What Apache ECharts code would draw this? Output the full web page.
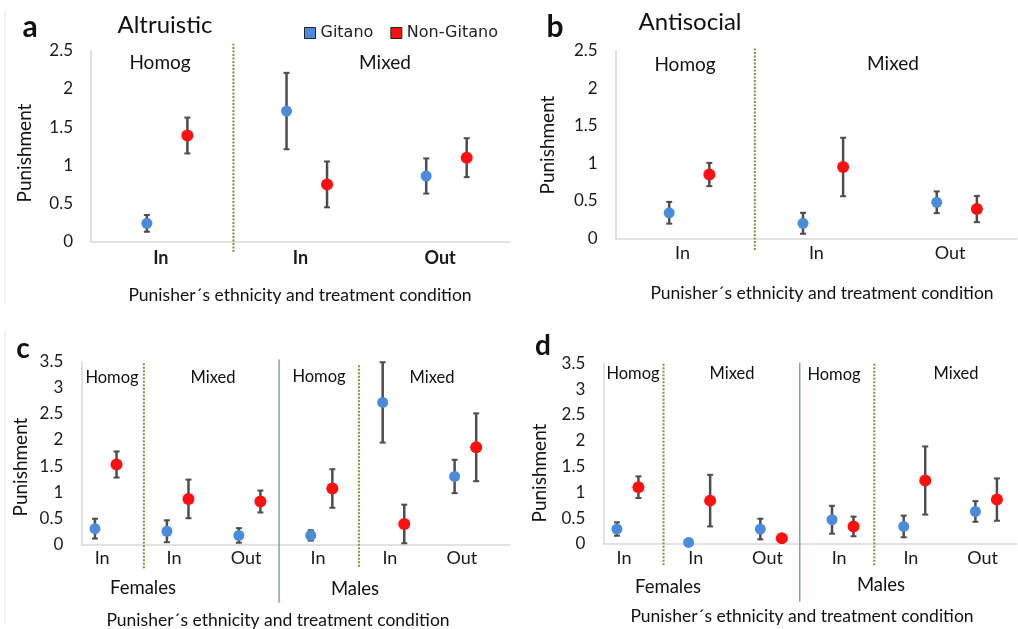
<!DOCTYPE html>
<html><head><meta charset="utf-8">
<script src="https://cdn.jsdelivr.net/npm/echarts@6/dist/echarts.min.js"></script>
<style>html,body{margin:0;padding:0;background:#fff}#c{width:1018px;height:629px}</style>
</head><body><div id="c"></div>
<script>
// ---------- data ----------
const aCats = ['In', 'In', 'Out'];
const aGitano = [0.24, 1.71, 0.86];
const aGitanoErr = [0.11, 0.50, 0.23];
const aNonGitano = [1.39, 0.75, 1.10];
const aNonGitanoErr = [0.235, 0.30, 0.255];

const bCats = ['In', 'In', 'Out'];
const bGitano = [0.34, 0.20, 0.48];
const bGitanoErr = [0.145, 0.14, 0.145];
const bNonGitano = [0.85, 0.95, 0.39];
const bNonGitanoErr = [0.155, 0.39, 0.175];

const cCats = ['In', 'In', 'Out', 'In', 'In', 'Out'];
const cGitano = [0.30, 0.25, 0.17, 0.17, 2.72, 1.30];
const cGitanoErr = [0.19, 0.21, 0.14, 0.10, 0.77, 0.32];
const cNonGitano = [1.53, 0.87, 0.82, 1.07, 0.39, 1.86];
const cNonGitanoErr = [0.25, 0.37, 0.21, 0.37, 0.37, 0.65];

const dCats = ['In', 'In', 'Out', 'In', 'In', 'Out'];
const dGitano = [0.29, 0.03, 0.29, 0.47, 0.34, 0.63];
const dGitanoErr = [0.13, 0.0, 0.2, 0.27, 0.21, 0.2];
const dNonGitano = [1.10, 0.84, 0.11, 0.34, 1.23, 0.86];
const dNonGitanoErr = [0.21, 0.50, 0.0, 0.19, 0.66, 0.41];

const yTicksAB = [0, 0.5, 1, 1.5, 2, 2.5];
const yTicksCD = [0, 0.5, 1, 1.5, 2, 2.5, 3, 3.5];

// ---------- styling / layout ----------
const FONT = 'Lato, "Open Sans", sans-serif';
const BLUE = '#4a8bdb', RED = '#ff0f0f', ERR = '#4d4d4d';
const AXIS = '#d9d9d9', DOT = '#7f953a', SOLID = '#7aa3d2';

const panels = [
  {cats: aCats, g: aGitano, ge: aGitanoErr, n: aNonGitano, ne: aNonGitanoErr, ticks: yTicksAB,
   grid: {left: 91, top: 50.7, width: 419, height: 191}, xmin: -0.5, xmax: 2.5, gOff: -0.1, nOff: 0.19,
   labelGap: 16, labelWeight: 'bold',
   seps: [{x: 0.52, y0: -0.135, y1: 2.59, solid: false}]},
  {cats: bCats, g: bGitano, ge: bGitanoErr, n: bNonGitano, ne: bNonGitanoErr, ticks: yTicksAB,
   grid: {left: 615.7, top: 50.7, width: 401.3, height: 187.6}, xmin: -0.5, xmax: 2.5, gOff: -0.1, nOff: 0.2,
   labelGap: 15, labelWeight: 'normal',
   seps: [{x: 0.54, y0: -0.157, y1: 2.55, solid: false}]},
  {cats: cCats, g: cGitano, ge: cGitanoErr, n: cNonGitano, ne: cNonGitanoErr, ticks: yTicksCD,
   grid: {left: 81.3, top: 361.7, width: 428.7, height: 182.6}, xmin: -0.29, xmax: 5.67, gOff: -0.1, nOff: 0.2,
   labelGap: 14, labelWeight: 'normal',
   seps: [{x: 0.58, y0: -0.46, y1: 3.47, solid: false}, {x: 3.57, y0: -0.43, y1: 3.44, solid: false},
          {x: 2.46, y0: -1.12, y1: 3.54, solid: true}]},
  {cats: dCats, g: dGitano, ge: dGitanoErr, n: dNonGitano, ne: dNonGitanoErr, ticks: yTicksCD,
   grid: {left: 603.3, top: 363.3, width: 413.7, height: 180.7}, xmin: -0.29, xmax: 5.48, gOff: -0.1, nOff: 0.2,
   labelGap: 14, labelWeight: 'normal',
   seps: [{x: 0.55, y0: -0.41, y1: 3.52, solid: false}, {x: 3.49, y0: -0.41, y1: 3.52, solid: false},
          {x: 2.45, y0: -1.12, y1: 3.51, solid: true}]}
];

const grids = [], xAxes = [], yAxes = [], series = [];
panels.forEach((p, i) => {
  grids.push(Object.assign({containLabel: false}, p.grid));
  xAxes.push({type: 'value', gridIndex: i, min: p.xmin, max: p.xmax,
    axisLine: {show: true, onZero: false, lineStyle: {color: AXIS, width: 1.5}},
    axisTick: {show: false}, axisLabel: {show: false}, splitLine: {show: false}});
  yAxes.push({type: 'value', gridIndex: i, min: 0, max: p.ticks[p.ticks.length - 1], interval: 0.5,
    axisLine: {show: true, onZero: false, lineStyle: {color: AXIS, width: 1.5}},
    axisTick: {show: false}, splitLine: {show: false},
    axisLabel: {margin: 18, color: '#1a1a1a', fontSize: 17, fontFamily: FONT}});

  // separators
  series.push({type: 'custom', xAxisIndex: i, yAxisIndex: i, silent: true, z: 1, clip: false,
    data: p.seps.map(s => [s.x, s.y0, s.y1, s.solid ? 1 : 0]),
    encode: {x: 0, y: [1, 2]},
    renderItem: (params, api) => {
      const a = api.coord([api.value(0), api.value(1)]);
      const b = api.coord([api.value(0), api.value(2)]);
      const solid = api.value(3) === 1;
      return {type: 'line', shape: {x1: a[0], y1: a[1], x2: b[0], y2: b[1]},
        style: {stroke: solid ? SOLID : DOT, lineWidth: solid ? 1.5 : 2, lineDash: solid ? null : [2, 1.5]}};
    }});

  // category labels
  series.push({type: 'custom', xAxisIndex: i, yAxisIndex: i, silent: true, z: 1, clip: false,
    data: p.cats.map((c, k) => [k, 0]),
    encode: {x: 0, y: 1},
    renderItem: (params, api) => {
      const pt = api.coord([api.value(0), 0]);
      return {type: 'text', x: pt[0], y: pt[1] + p.labelGap,
        style: {text: p.cats[params.dataIndex], fill: '#1a1a1a', align: 'center', verticalAlign: 'middle',
          font: p.labelWeight + ' 18px ' + FONT}};
    }});

  // error bars
  [[p.g, p.ge, p.gOff], [p.n, p.ne, p.nOff]].forEach(([vals, errs, off]) => {
    series.push({type: 'custom', xAxisIndex: i, yAxisIndex: i, silent: true, z: 2, clip: false,
      data: vals.map((v, k) => [k + off, v - errs[k], v + errs[k]]),
      encode: {x: 0, y: [1, 2]},
      renderItem: (params, api) => {
        const lo = api.coord([api.value(0), api.value(1)]);
        const hi = api.coord([api.value(0), api.value(2)]);
        if (Math.abs(hi[1] - lo[1]) < 1) return null;
        const st = {stroke: ERR, lineWidth: 2.5};
        return {type: 'group', children: [
          {type: 'line', shape: {x1: lo[0], y1: lo[1], x2: hi[0], y2: hi[1]}, style: st},
          {type: 'line', shape: {x1: hi[0] - 3, y1: hi[1], x2: hi[0] + 3, y2: hi[1]}, style: {stroke: ERR, lineWidth: 2}},
          {type: 'line', shape: {x1: lo[0] - 3, y1: lo[1], x2: lo[0] + 3, y2: lo[1]}, style: {stroke: ERR, lineWidth: 2}}
        ]};
      }});
  });

  // points
  series.push({type: 'scatter', name: 'Gitano', xAxisIndex: i, yAxisIndex: i, z: 3, symbolSize: 11,
    itemStyle: {color: BLUE, opacity: 1}, data: p.g.map((v, k) => [k + p.gOff, v])});
  series.push({type: 'scatter', name: 'Non-Gitano', xAxisIndex: i, yAxisIndex: i, z: 3, symbolSize: 12,
    itemStyle: {color: RED, opacity: 1}, data: p.n.map((v, k) => [k + p.nOff, v])});
});

function txt(x, y, text, size, opts) {
  opts = opts || {};
  return {type: 'text', x: x, y: y, rotation: opts.rot || 0, silent: true,
    style: {text: text, fill: '#111', align: 'center', verticalAlign: 'middle',
      font: (opts.weight || 'normal') + ' ' + size + 'px ' + (opts.family || FONT)}};
}
const R = Math.PI / 2;
const xName = 'Punisher´s ethnicity and treatment condition';
const graphics = [
  {type: 'line', silent: true, shape: {x1: 5, y1: 10, x2: 5, y2: 305}, style: {stroke: '#e8e8e8', lineWidth: 1}},
  {type: 'line', silent: true, shape: {x1: 5, y1: 330, x2: 5, y2: 625}, style: {stroke: '#e8e8e8', lineWidth: 1}},
  txt(30, 27, 'a', 30, {weight: 'bold'}),
  txt(165, 25, 'Altruistic', 24),
  txt(555, 27, 'b', 30, {weight: 'bold'}),
  txt(690, 22, 'Antisocial', 24),
  txt(23, 349, 'c', 28, {weight: 'bold'}),
  txt(543, 346, 'd', 28, {weight: 'bold'}),
  txt(25, 153, 'Punishment', 19, {rot: R}),
  txt(548, 145, 'Punishment', 19, {rot: R}),
  txt(21, 467, 'Punishment', 19, {rot: R}),
  txt(540, 473, 'Punishment', 19, {rot: R}),
  txt(300, 295, xName, 17.5),
  txt(822, 293, xName, 17.5),
  txt(278, 620, xName, 17.5),
  txt(802, 616, xName, 17.5),
  txt(160, 63, 'Homog', 19), txt(385, 63, 'Mixed', 19),
  txt(685, 65, 'Homog', 19), txt(893, 64, 'Mixed', 19),
  txt(112, 378, 'Homog', 16.5), txt(213, 378, 'Mixed', 16.5), txt(319, 377, 'Homog', 16.5), txt(432, 378, 'Mixed', 16.5),
  txt(633, 374, 'Homog', 16.5), txt(732, 374, 'Mixed', 16.5), txt(834, 375, 'Homog', 16.5), txt(956, 374, 'Mixed', 16.5),
  txt(143, 588, 'Females', 18.5), txt(355, 589, 'Males', 18.5),
  txt(668, 587, 'Females', 18.5), txt(881, 585, 'Males', 18.5)
];

const chart = echarts.init(document.getElementById('c'), null, {renderer: 'canvas'});
chart.setOption({
  animation: false,
  backgroundColor: '#fff',
  grid: grids, xAxis: xAxes, yAxis: yAxes, series: series,
  legend: {left: 299, top: 20, selectedMode: false, itemWidth: 11, itemHeight: 11, itemGap: 17,
    icon: 'rect', itemStyle: {borderColor: '#222', borderWidth: 1},
    textStyle: {fontFamily: '"DejaVu Sans", sans-serif', fontSize: 16, color: '#222'},
    data: ['Gitano', 'Non-Gitano']},
  graphic: graphics
});
</script></body></html>
